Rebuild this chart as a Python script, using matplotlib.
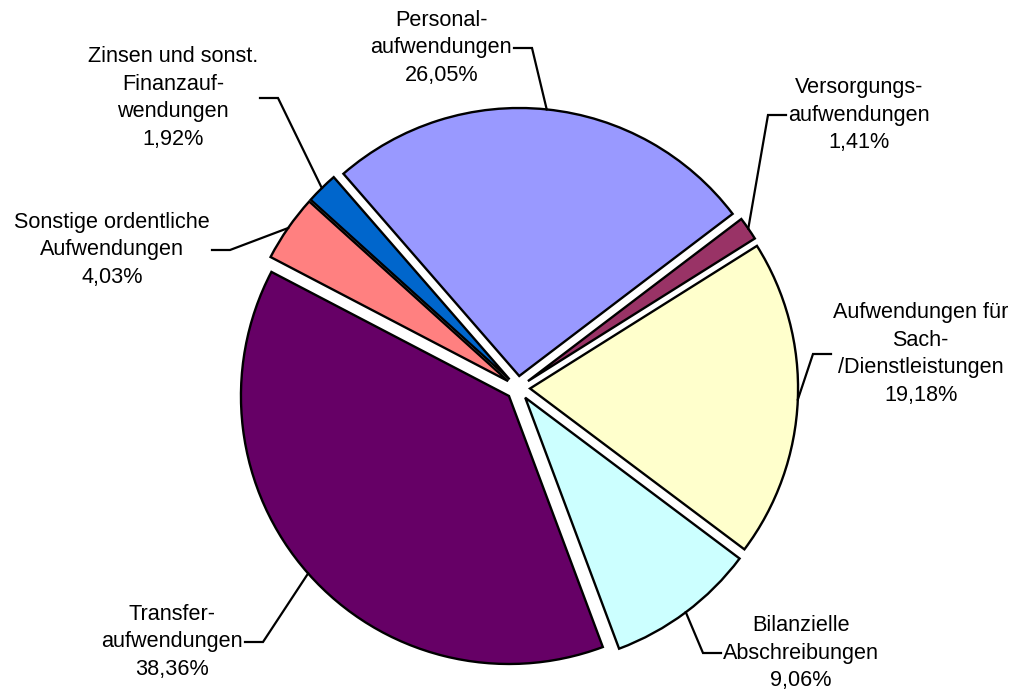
import numpy as np
import matplotlib.pyplot as plt

plt.rcParams['font.family'] = ['Liberation Sans', 'DejaVu Sans']

# data
labels = ["Personal-\naufwendungen", "Versorgungs-\naufwendungen",
          "Aufwendungen für\nSach-\n/Dienstleistungen", "Bilanzielle\nAbschreibungen",
          "Transfer-\naufwendungen", "Sonstige ordentliche\nAufwendungen",
          "Zinsen und sonst.\nFinanzauf-\nwendungen"]
shares = [26.05, 1.41, 19.18, 9.06, 38.36, 4.03, 1.92]
colors = ["#9999FF", "#993366", "#FFFFCC", "#CCFFFF", "#660066", "#FF8080", "#0066CC"]

# layout (pixels)
W, H = 1016, 693
cx, cy, R = 518, 388, 268
# label elbow position (px) and side of the text (+1 right, -1 left)
elbows = [(532, 48, -1), (768, 115, 1), (813, 354, 1), (703, 653, 1),
          (263, 642, -1), (230, 250, -1), (278, 98, -1)]
gap = 20
seg = 18

def px(x, y):
    return (x - cx) / R, (cy - y) / R

fig = plt.figure(figsize=(W / 100, H / 100), dpi=100)
ax = fig.add_axes([0, 0, 1, 1])
wedges, _ = ax.pie(shares, colors=colors, explode=[0.045] * len(shares),
                   startangle=131, counterclock=False, radius=1,
                   wedgeprops=dict(edgecolor='black', linewidth=1.7))
ax.set_xlim(-cx / R, (W - cx) / R)
ax.set_ylim(-(H - cy) / R, cy / R)

for w, lab, val, (ex, ey, side) in zip(wedges, labels, shares, elbows):
    mid = np.deg2rad((w.theta1 + w.theta2) / 2)
    ax0 = w.center[0] + w.r * np.cos(mid)
    ay0 = w.center[1] + w.r * np.sin(mid)
    bx, by = px(ex, ey)
    hx, _ = px(ex + side * seg, ey)
    ax.plot([ax0, bx, hx], [ay0, by, by], color='black', lw=1.6,
            solid_joinstyle='miter', zorder=3)
    tx, ty = px(ex + side * gap, ey)
    txt = lab + "\n" + f"{val:.2f}".replace('.', ',') + "%"
    ax.text(tx, ty, txt, ha='left' if side > 0 else 'right', va='center',
            multialignment='center', fontsize=15.6, linespacing=1.43)

fig.savefig('out.png', dpi=100)
